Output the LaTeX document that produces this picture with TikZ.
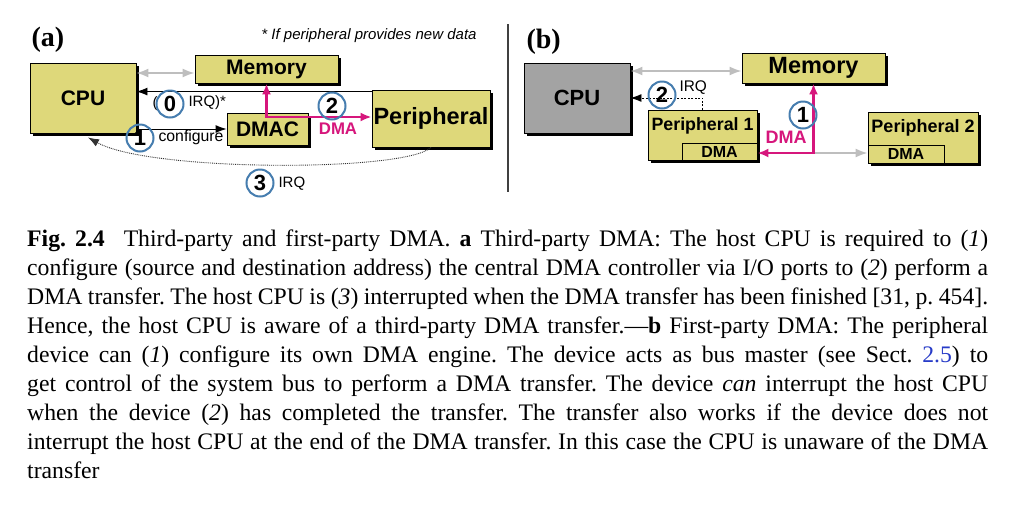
\documentclass[tikz,border=0pt]{standalone}
\usepackage{fontspec}
\setmainfont{Liberation Serif}
\newfontfamily\arial{Liberation Sans}
\usetikzlibrary{arrows.meta,calc}
\definecolor{boxyellow}{RGB}{222,216,122}
\definecolor{cpugray}{RGB}{163,163,163}
\definecolor{ringblue}{RGB}{70,125,175}
\definecolor{dmamag}{RGB}{214,22,124}
\definecolor{busgray}{RGB}{190,190,190}
\definecolor{linkblue}{RGB}{40,60,200}
\begin{document}
\begin{tikzpicture}[x=1pt,y=-1pt,
  shbox/.style={draw=black, line width=0.9pt, inner sep=0pt,
    preaction={fill=black, transform canvas={shift={(3pt,-3pt)}}}},
  ybox/.style={shbox, fill=boxyellow},
  gbox/.style={shbox, fill=cpugray},
  inbox/.style={draw=black, line width=0.9pt, fill=boxyellow, inner sep=0pt},
  sfb/.style={font=\arial\bfseries\fontsize{#1}{#1}\selectfont},
  sfr/.style={font=\arial\fontsize{#1}{#1}\selectfont},
  ring/.style={circle, draw=ringblue, line width=2pt, minimum size=27pt, inner sep=0pt,
    font=\arial\bfseries\fontsize{22}{22}\selectfont},
  bus/.style={draw=busgray, line width=1.8pt, {Latex[length=12pt,width=9pt]}-{Latex[length=12pt,width=9pt]}},
  busone/.style={draw=busgray, line width=1.8pt, -{Latex[length=12pt,width=9pt]}},
  ctl/.style={draw=black, line width=0.9pt, -{Latex[length=11pt,width=8pt]}},
  dma/.style={draw=dmamag, line width=2.4pt, {Latex[length=11pt,width=9pt]}-{Latex[length=11pt,width=9pt]}},
  irqa/.style={draw=black!80, line width=0.9pt, densely dotted, -{Latex[length=11pt,width=8pt]}},
  irqb/.style={draw=black, line width=0.9pt, dash pattern=on 2pt off 1.5pt, -{Latex[length=11pt,width=8pt]}},
  dmatxt/.style={text=dmamag, font=\arial\bfseries\fontsize{#1}{#1}\selectfont},
  panel/.style={font=\bfseries\fontsize{28}{28}\selectfont}
]
\useasboundingbox (0,0) rectangle (1032,507);
\fill[white] (0,0) rectangle (1032,507);

% ---------------- (a) ----------------
\node[panel, anchor=west] (labA) at (28,40) {(a)};
\node[font=\arial\itshape\fontsize{15}{15}\selectfont] (note) at (369,36) {* If peripheral provides new data};

\node[ybox, minimum width=106pt, minimum height=70pt, sfb=21] (cpuA) at (83,98) {CPU};
\node[ybox, minimum width=143pt, minimum height=28pt, sfb=21] (memA) at (266.5,69) {Memory};
\node[ybox, minimum width=118pt, minimum height=57pt, sfb=23.5] (perA) at (431,118.5) {Peripheral};
\node[ybox, minimum width=81pt, minimum height=32pt, sfb=21] (dmac) at (267.5,129) {DMAC};

\coordinate (gA) at ($(memA.west)+(0,4)$);
\draw[bus] (cpuA.east |- gA) -- (gA);

\coordinate (irq0) at ($(perA.north west)+(0,2)$);
\draw[ctl] (irq0) -- (cpuA.east |- irq0);

\draw[ctl] (cpuA.east |- dmac.west) -- (dmac.west);

\coordinate (jA) at (266.5,117);
\draw[dma] (memA.south) |- (perA.west |- jA);

\draw[irqa] (perA.south) .. controls (405,172) and (150,172) .. ([xshift=5pt,yshift=-4pt]cpuA.south);

\node[sfr=15] (par0) at (155,104) {(};
\node[ring] (r0) at (170,104) {0};
\node[sfr=15, anchor=west] (irq0t) at (185,103) {IRQ)*};
\node[ring] (r1) at (140,138) {1};
\node[sfr=15.8, anchor=west] (conf) at (155,137) {configure};
\node[ring] (r2) at (332,106) {2};
\node[dmatxt=16.8] (dmaA) at (338,129) {DMA};
\node[ring] (r3) at (260,183) {3};
\node[sfr=15, anchor=west] (irq3t) at (275,184) {IRQ};

% divider
\draw[black!75, line width=1.3pt] (508,24) -- (508,192);

% ---------------- (b) ----------------
\node[panel, anchor=west] (labB) at (523,42) {(b)};
\node[gbox, minimum width=106pt, minimum height=70pt, sfb=22] (cpuB) at (577,98) {CPU};
\node[ybox, minimum width=143pt, minimum height=30pt, sfb=23.5] (memB) at (813.5,68) {Memory};
\node[ybox, minimum width=109pt, minimum height=50pt] (per1) at (702.5,135) {};
\node[sfb=17.8] (per1t) at (702.5,126) {Peripheral 1};
\node[inbox, minimum width=75pt, minimum height=17pt, sfb=16] (dma1) at (719.5,151.5) {DMA};
\node[ybox, minimum width=110pt, minimum height=51pt] (per2) at (923,137.5) {};
\node[sfb=18] (per2t) at (923,128) {Peripheral 2};
\node[inbox, minimum width=76pt, minimum height=18pt, sfb=16] (dma2) at (906,154) {DMA};

\coordinate (gB) at ($(memB.west)+(0,3)$);
\draw[bus] (cpuB.east |- gB) -- (gB);

\coordinate (jB) at (813.5,153);
\draw[busone] (jB) -- (per2.west |- jB);
\draw[dma] (memB.south) |- (per1.east |- jB);

\draw[irqb] (per1.north) |- (cpuB.east);

\node[ring] (rb2) at (662,95) {2};
\node[sfr=15.4, anchor=west] (irqBt) at (676,88) {IRQ};
\node[ring] (rb1) at (803,115) {1};
\node[dmatxt=18] (dmaB) at (786,137) {DMA};

% ---------------- caption ----------------
\node[anchor=north west, inner sep=0pt, text width=961pt, align=justify,
      font=\fontsize{23.7}{28.9}\selectfont] (cap) at (27,230)
{\frenchspacing\tolerance=10000\emergencystretch=20pt
\textbf{Fig.~2.4}\hspace{0.8em}Third-party and first-party DMA. \textbf{a} Third-party DMA: The host CPU is required to (\textit{1})\linebreak
configure (source and destination address) the central DMA controller via I/O ports to (\textit{2}) perform a\linebreak
DMA transfer. The host CPU is (\textit{3}) interrupted when the DMA transfer has been finished [31, p. 454].\linebreak
Hence, the host CPU is aware of a third-party DMA transfer.---\textbf{b} First-party DMA: The peripheral\linebreak
device can (\textit{1}) configure its own DMA engine. The device acts as bus master (see Sect. \textcolor{linkblue}{2.5}) to\linebreak
get control of the system bus to perform a DMA transfer. The device \textit{can} interrupt the host CPU\linebreak
when the device (\textit{2}) has completed the transfer. The transfer also works if the device does not\linebreak
interrupt the host CPU at the end of the DMA transfer. In this case the CPU is unaware of the DMA\linebreak
transfer};
\end{tikzpicture}
\end{document}
